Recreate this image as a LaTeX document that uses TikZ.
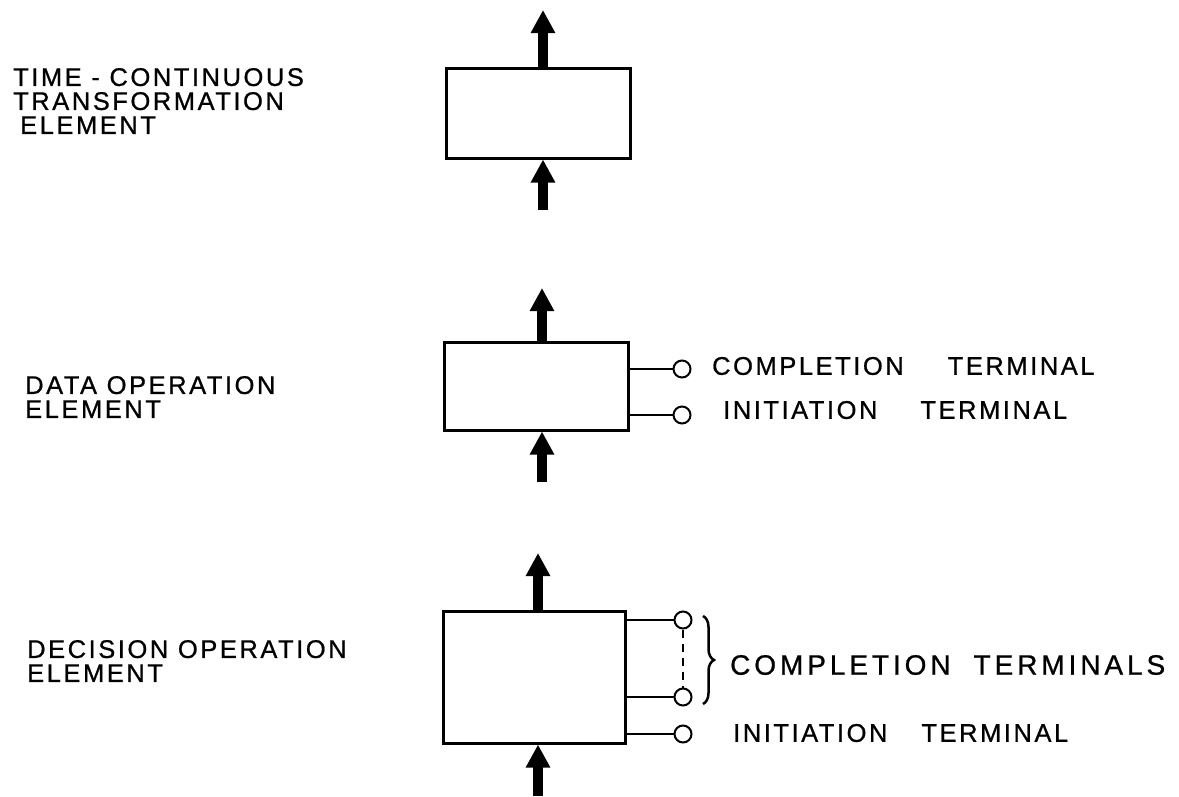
\documentclass[tikz,border=0pt]{standalone}
\usepackage{fontspec}
\setmainfont{Liberation Sans}[LetterSpace=10, FakeBold=0.8]
\usetikzlibrary{arrows.meta,decorations.pathreplacing}

\tikzset{
  block/.style={draw, line width=3pt, minimum width=184pt, inner sep=0pt},
  flow/.style={line width=10pt, -{Triangle[width=23pt,length=23pt]}},
  lead/.style={line width=2.5pt},
  terminal/.style={circle, draw, fill=white, line width=2pt, minimum size=17pt, inner sep=0pt},
  label/.style={anchor=west, inner sep=0pt, align=left,
    font=\fontsize{25.5}{24}\selectfont},
  widelabel/.style={label, font=\fontsize{28}{28}\selectfont\addfontfeatures{LetterSpace=14}},
}

\begin{document}
\begin{tikzpicture}[x=1pt, y=-1pt]
\useasboundingbox (0,0) rectangle (1179,796);

% ---- time-continuous transformation element
\node[block, minimum height=90pt] (box1) at (538,113) {};
\coordinate (up1) at (543,10);
\coordinate (in1) at (543,210);
\draw[flow] (box1.north -| up1) -- (up1);
\draw[flow] (in1) -- (in1 |- box1.south);
\node[label] (lab1) at (13,101) {TIME - CONTINUOUS\\TRANSFORMATION\\\hspace{7pt}ELEMENT};

% ---- data operation element
\node[block, minimum height=88pt] (box2) at (536,386) {};
\coordinate (up2) at (542,288);
\coordinate (in2) at (542,482);
\draw[flow] (box2.north -| up2) -- (up2);
\draw[flow] (in2) -- (in2 |- box2.south);
\node[terminal] (c2a) at (682,369) {};
\node[terminal] (c2b) at (682,415) {};
\draw[lead] (box2.east |- c2a) -- (c2a);
\draw[lead] (box2.east |- c2b) -- (c2b);
\node[label] (lab2) at (25,397) {DATA OPERATION\\ELEMENT};
\node[label] (t2a) at (712,366) {COMPLETION\hspace{44pt}TERMINAL};
\node[label] (t2b) at (723,410) {INITIATION\hspace{43pt}TERMINAL};

% ---- decision operation element
\node[block, minimum width=182pt, minimum height=132pt] (box3) at (534,677) {};
\coordinate (up3) at (538,553);
\coordinate (in3) at (538,796);
\draw[flow] (box3.north -| up3) -- (up3);
\draw[flow] (in3) -- (in3 |- box3.south);
\node[terminal] (c3a) at (683,620) {};
\node[terminal] (c3b) at (683,697) {};
\node[terminal] (c3c) at (683,734) {};
\draw[lead] (box3.east |- c3a) -- (c3a);
\draw[lead] (box3.east |- c3b) -- (c3b);
\draw[lead] (box3.east |- c3c) -- (c3c);
\draw[line width=2pt, dash pattern=on 8pt off 6pt] (c3a) -- (c3b);
\coordinate (br1) at (703,616);
\coordinate (br2) at (703,704);
\draw[line width=2.5pt, decorate, decoration={brace, amplitude=11pt}] (br1) -- (br2);
\node[label] (lab3) at (27,661) {DECISION OPERATION\\ELEMENT};
\node[widelabel] (t3a) at (730,665) {COMPLETION\hspace{23pt}TERMINALS};
\node[label] (t3b) at (733,733) {INITIATION\hspace{34pt}TERMINAL};
\end{tikzpicture}
\end{document}
